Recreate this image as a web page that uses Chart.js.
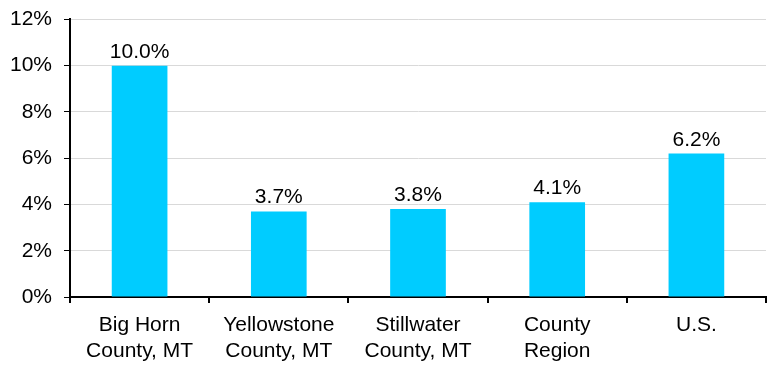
<!DOCTYPE html>
<html>
<head>
<meta charset="utf-8">
<script src="https://cdn.jsdelivr.net/npm/chart.js@4/dist/chart.umd.min.js"></script>
<style>
  html, body { margin: 0; padding: 0; background: #fff; }
  #wrap { width: 770px; height: 366px; }
</style>
</head>
<body>
<div id="wrap"><canvas id="rates"></canvas></div>
<script>
var categories = [
    ["Big Horn", "County, MT"],
    ["Yellowstone", "County, MT"],
    ["Stillwater", "County, MT"],
    ["County", "Region"],
    "U.S."
];
var rates = [10.0, 3.7, 3.8, 4.1, 6.2];
var yTicks = [0, 2, 4, 6, 8, 10, 12];

// draws the value over each bar
var barLabels = {
    id: 'barLabels',
    afterDatasetsDraw: function (chart) {
        var ctx = chart.ctx;
        var meta = chart.getDatasetMeta(0);
        ctx.save();
        ctx.font = '21px "Liberation Sans", Arial, sans-serif';
        ctx.fillStyle = '#000';
        ctx.textAlign = 'center';
        ctx.textBaseline = 'alphabetic';
        meta.data.forEach(function (bar, i) {
            ctx.fillText(rates[i].toFixed(1) + '%', bar.x, bar.y - 8);
        });
        ctx.restore();
    }
};

Chart.defaults.font.family = '"Liberation Sans", Arial, sans-serif';
Chart.defaults.color = '#000';

new Chart(document.getElementById('rates'), {
    type: 'bar',
    data: {
        labels: categories,
        datasets: [{
            data: rates,
            backgroundColor: '#00CCFF',
            categoryPercentage: 0.4,
            barPercentage: 1.0
        }]
    },
    options: {
        responsive: true,
        maintainAspectRatio: false,
        animation: false,
        layout: { padding: { top: 0, right: 4, left: 0, bottom: 0 } },
        plugins: {
            legend: { display: false },
            tooltip: { enabled: false }
        },
        scales: {
            x: {
                grid: {
                    offset: true,
                    drawOnChartArea: false,
                    tickColor: '#000',
                    tickLength: 6,
                    lineWidth: 2
                },
                border: { color: '#000', width: 2 },
                ticks: {
                    font: { size: 21, lineHeight: 1.24 },
                    maxRotation: 0,
                    padding: 9
                },
                afterFit: function (scale) { scale.height = 69; }
            },
            y: {
                min: 0,
                max: 12,
                afterBuildTicks: function (scale) {
                    scale.ticks = yTicks.map(function (v) { return { value: v }; });
                },
                grid: {
                    color: '#D9D9D9',
                    tickColor: '#000',
                    tickLength: 6,
                    lineWidth: 1
                },
                border: { color: '#000', width: 2 },
                ticks: {
                    font: { size: 21, lineHeight: 0.7 },
                    padding: 12,
                    callback: function (v) { return v + '%'; }
                },
                afterFit: function (scale) { scale.width = 70; }
            }
        }
    },
    plugins: [barLabels]
});
</script>
</body>
</html>
